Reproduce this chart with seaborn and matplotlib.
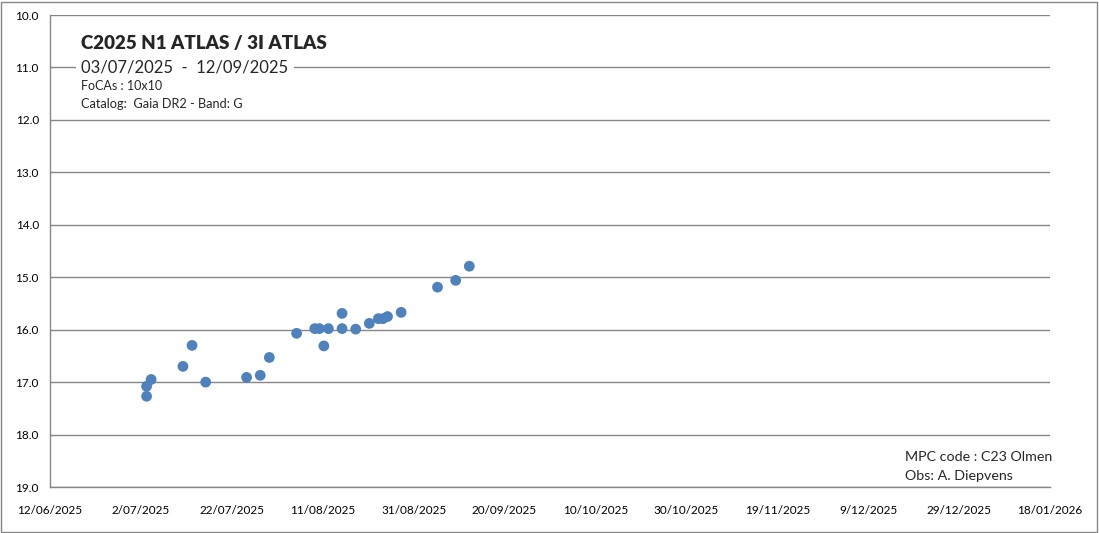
import pandas as pd
import numpy as np
import matplotlib.pyplot as plt
from matplotlib.patches import Rectangle
import seaborn as sns

obs_dates = ["2025-07-03", "2025-07-03", "2025-07-04", "2025-07-11", "2025-07-13",
             "2025-07-16", "2025-07-25", "2025-07-28", "2025-07-30", "2025-08-05",
             "2025-08-09", "2025-08-10", "2025-08-11", "2025-08-12", "2025-08-15",
             "2025-08-15", "2025-08-18", "2025-08-21", "2025-08-23", "2025-08-24",
             "2025-08-25", "2025-08-28", "2025-09-05", "2025-09-09", "2025-09-12"]
magnitudes = [17.08, 17.27, 16.95, 16.70, 16.30,
              17.00, 16.91, 16.87, 16.53, 16.07,
              15.98, 15.98, 16.31, 15.98, 15.69,
              15.98, 15.99, 15.88, 15.79, 15.79,
              15.75, 15.67, 15.19, 15.06, 14.79]

df = pd.DataFrame({"date": pd.to_datetime(obs_dates) + pd.Timedelta(hours=6), "mag": magnitudes})

sns.set_style("white")
plt.rcParams["font.family"] = ["Lato", "DejaVu Sans"]

fig = plt.figure(figsize=(10.99, 5.33), dpi=100)
ax = fig.add_axes([50 / 1099, 1 - 487 / 533, 1000 / 1099, 472 / 533])

sns.scatterplot(data=df, x="date", y="mag", ax=ax, color="#4F81BD",
                s=60, edgecolor="none", zorder=3)

grid_col = "#868686"
ax.set_ylim(19, 10)
ax.set_yticks(np.arange(10, 19.5, 1))
ax.yaxis.set_major_formatter(plt.FuncFormatter(lambda v, p: f"{v:.1f}"))
ax.grid(axis="y", color=grid_col, linewidth=1)
ax.grid(axis="x", visible=False)

start = pd.Timestamp("2025-06-12")
end = pd.Timestamp("2026-01-18")
ax.set_xlim(start, end)
xticks = pd.date_range(start, end, freq="20D")
ax.set_xticks(xticks)
ax.set_xticklabels([f"{d.day}/{d.month:02d}/{d.year}" for d in xticks])

for s in ["top", "right"]:
    ax.spines[s].set_visible(False)
for s in ["left", "bottom"]:
    ax.spines[s].set_color(grid_col)
    ax.spines[s].set_linewidth(1)
ax.tick_params(axis="both", direction="out", length=4, color=grid_col,
               labelsize=8.5, labelcolor="black")
ax.tick_params(axis="x", pad=9)
ax.tick_params(axis="y", length=4, pad=4)
ax.set_xlabel("")
ax.set_ylabel("")

# header text
ax.text(0.031, 0.928, "C2025 N1 ATLAS / 3I ATLAS", transform=ax.transAxes,
        fontsize=13.5, fontweight="heavy", va="baseline")
ax.text(0.031, 0.879, "03/07/2025  -  12/09/2025", transform=ax.transAxes,
        fontsize=12, va="baseline",
        bbox=dict(facecolor="white", edgecolor="none", pad=4))
ax.text(0.031, 0.841, "FoCAs : 10x10", transform=ax.transAxes, fontsize=9, va="baseline")
ax.text(0.031, 0.803, "Catalog:  Gaia DR2 - Band: G", transform=ax.transAxes,
        fontsize=9.2, va="baseline")

# observer text
ax.text(0.855, 0.055, "MPC code : C23 Olmen", transform=ax.transAxes, fontsize=10.3,
        va="baseline")
ax.text(0.855, 0.015, "Obs: A. Diepvens", transform=ax.transAxes, fontsize=10.3,
        va="baseline")

# outer frame
fig.patches.append(Rectangle((0.001, 0.002), 0.997, 0.995, transform=fig.transFigure,
                             fill=False, edgecolor=grid_col, linewidth=1))

fig.savefig("out.png", dpi=100)
